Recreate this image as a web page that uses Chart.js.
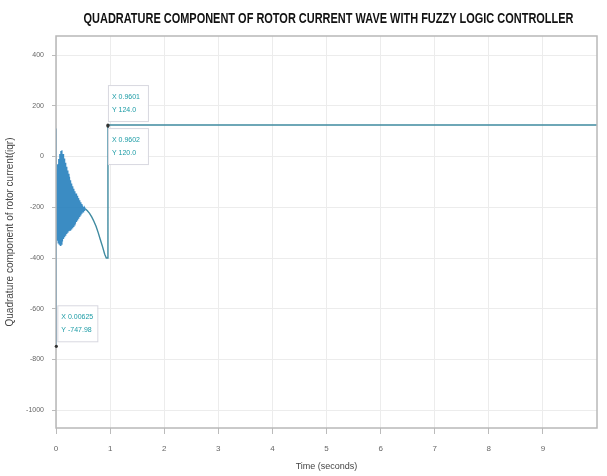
<!DOCTYPE html>
<html>
<head>
<meta charset="utf-8">
<script src="https://cdn.jsdelivr.net/npm/chart.js@4.4.1/dist/chart.umd.min.js"></script>
<style>
  html, body { margin: 0; padding: 0; background: #fff; }
  #wrap { width: 607px; height: 476px; }
</style>
</head>
<body>
<div id="wrap"><canvas id="c" width="607" height="476"></canvas></div>
<script>
const titleText = 'QUADRATURE COMPONENT OF ROTOR CURRENT WAVE WITH FUZZY LOGIC CONTROLLER';
const xTitle = 'Time (seconds)';
const yTitle = 'Quadrature component of rotor current(iqr)';

const xTicks = [0, 1, 2, 3, 4, 5, 6, 7, 8, 9];
const yTicks = [-1000, -800, -600, -400, -200, 0, 200, 400];

// start-up transient (spike + oscillating band)
const bandT = [0, 0.002, 0.00625, 0.012, 0.02, 0.03, 0.04, 0.05, 0.06, 0.07, 0.08, 0.09, 0.10, 0.11,
  0.12, 0.13, 0.14, 0.15, 0.16, 0.17, 0.18, 0.19, 0.20, 0.21, 0.22, 0.23, 0.24, 0.25, 0.26, 0.27,
  0.28, 0.29, 0.30, 0.31, 0.32, 0.33, 0.34, 0.35, 0.36, 0.37, 0.38, 0.39, 0.40, 0.41, 0.42, 0.43,
  0.44, 0.45, 0.46, 0.47, 0.48, 0.49, 0.50, 0.51, 0.52, 0.53, 0.54];
const bandI = [0, 110, -747.98, -60, -330, -30, -340, -10, -345, 10, -350, 22, -345, 25,
  -335, 10, -325, -8, -318, -25, -312, -40, -305, -55, -300, -68, -295, -80, -290, -94,
  -285, -106, -280, -117, -275, -127, -270, -137, -265, -146, -258, -155, -252, -164, -245, -172,
  -238, -180, -232, -187, -225, -193, -218, -198, -212, -202, -206];

// decay after the band, the jump, then the steady level
const tailT = [0.54, 0.58, 0.62, 0.66, 0.70, 0.74, 0.78, 0.82, 0.86, 0.90, 0.93, 0.9601, 0.9602, 2, 4, 6, 8, 10];
const tailI = [-206, -214, -224, -238, -255, -275, -300, -328, -355, -385, -400, -400, 124, 124, 124, 124, 124, 124];

const tips = [
  {x: 0.9601, y: 124, lines: ['X 0.9601', 'Y 124.0'], dx: 0, dy: -40},
  {x: 0.9602, y: 120, lines: ['X 0.9602', 'Y 120.0'], dx: 0, dy: 2},
  {x: 0.00625, y: -747.98, lines: ['X 0.00625', 'Y -747.98'], dx: 1, dy: -41}
];

const pts = (t, v) => t.map((x, i) => ({x: x, y: v[i]}));

const frame = {
  id: 'frame',
  afterDraw(chart) {
    const {ctx, chartArea: a, scales} = chart;
    ctx.save();
    ctx.strokeStyle = '#b8b8b8';
    ctx.lineWidth = 1.5;
    ctx.strokeRect(a.left, a.top, a.right - a.left, a.bottom - a.top);
    // title, squeezed to a condensed look
    ctx.fillStyle = '#111';
    ctx.font = 'bold 14px "Liberation Sans", Arial, sans-serif';
    ctx.textAlign = 'center';
    ctx.textBaseline = 'middle';
    const w = ctx.measureText(titleText).width;
    const sx = 490 / w;
    ctx.save();
    ctx.translate((a.left + a.right) / 2 + 2, 19);
    ctx.scale(sx, 1);
    ctx.fillText(titleText, 0, 0);
    ctx.restore();
    // data tips
    ctx.font = '7px "Liberation Sans", sans-serif';
    tips.forEach(tp => {
      const px = scales.x.getPixelForValue(tp.x);
      const py = scales.y.getPixelForValue(tp.y);
      const bx = px + tp.dx, by = py + tp.dy;
      ctx.fillStyle = 'rgba(255,255,255,0.95)';
      ctx.fillRect(bx, by, 40, 36);
      ctx.strokeStyle = '#d8d8e0';
      ctx.lineWidth = 1;
      ctx.strokeRect(bx + 0.5, by + 0.5, 40, 36);
      ctx.fillStyle = '#1d9ca6';
      ctx.textAlign = 'left';
      ctx.fillText(tp.lines[0], bx + 4, by + 12);
      ctx.fillText(tp.lines[1], bx + 4, by + 25);
      ctx.fillStyle = '#333';
      ctx.beginPath();
      ctx.arc(px, py, 1.6, 0, Math.PI * 2);
      ctx.fill();
    });
    ctx.restore();
  }
};

new Chart(document.getElementById('c'), {
  type: 'line',
  data: {
    datasets: [
      {data: pts(bandT, bandI), borderColor: 'rgba(38,128,188,0.9)', borderWidth: 1.2, pointRadius: 0, tension: 0},
      {data: pts(tailT, tailI), borderColor: '#3f8aa0', borderWidth: 1.4, pointRadius: 0, tension: 0}
    ]
  },
  options: {
    responsive: false,
    animation: false,
    layout: {padding: {top: 36, right: 10, left: 0, bottom: 0}},
    plugins: {legend: {display: false}, tooltip: {enabled: false}, title: {display: false}},
    scales: {
      x: {
        type: 'linear', min: 0, max: 10,
        afterBuildTicks: s => { s.ticks = xTicks.map(v => ({value: v})); },
        afterFit: s => { s.height = 48; },
        grid: {color: '#ececec', tickLength: 6, tickColor: '#bbb'},
        border: {display: false},
        ticks: {color: '#666', font: {size: 8}, padding: 10},
        title: {display: true, text: xTitle, color: '#444', font: {size: 9}, padding: {top: 0}}
      },
      y: {
        type: 'linear', min: -1070, max: 475,
        afterBuildTicks: s => { s.ticks = yTicks.map(v => ({value: v})); },
        afterFit: s => { s.width = 56; },
        grid: {color: '#ececec', tickLength: 4, tickColor: '#bbb'},
        border: {display: false},
        ticks: {color: '#666', font: {size: 7}, padding: 8, callback: v => String(v)},
        title: {display: true, text: yTitle, color: '#444', font: {size: 10}, padding: {bottom: 2}}
      }
    }
  },
  plugins: [frame]
});
</script>
</body>
</html>
